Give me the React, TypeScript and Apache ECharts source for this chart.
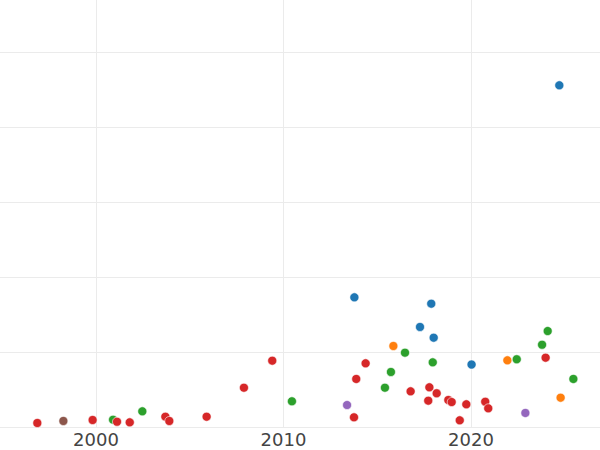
import React, { useEffect, useRef } from "react";
import * as echarts from "echarts";

// Year and value pairs (y in grid units)
const blueYears = [2013.78, 2017.88, 2017.28, 2018.01, 2020.03, 2024.71];
const blueValues = [1.734, 1.649, 1.338, 1.195, 0.837, 4.565];

const orangeYears = [2015.86, 2021.94, 2024.78];
const orangeValues = [1.084, 0.893, 0.394];

const greenYears = [2000.91, 2002.47, 2010.45, 2015.41, 2015.73, 2016.48, 2017.96, 2022.44, 2023.79, 2024.09, 2025.46];
const greenValues = [0.1, 0.212, 0.346, 0.527, 0.737, 0.995, 0.866, 0.907, 1.101, 1.284, 0.644];

const redYears = [1996.87, 1999.82, 2001.12, 2001.8, 2003.7, 2003.91, 2005.9, 2007.89, 2009.4, 2013.76, 2013.88, 2014.38, 2016.78, 2017.78, 2018.17, 2017.72, 2018.79, 2018.97, 2019.75, 2019.4, 2020.76, 2020.92, 2023.98];
const redValues = [0.056, 0.096, 0.073, 0.065, 0.14, 0.083, 0.14, 0.527, 0.888, 0.132, 0.644, 0.853, 0.479, 0.533, 0.453, 0.354, 0.363, 0.336, 0.306, 0.092, 0.34, 0.252, 0.928];

const purpleYears = [2013.39, 2022.9];
const purpleValues = [0.296, 0.19];

const brownYears = [1998.26];
const brownValues = [0.083];

const xTicks = [1990, 2000, 2010, 2020, 2030];

const seriesDefs = [
  { name: "blue", color: "#1f77b4", xs: blueYears, ys: blueValues },
  { name: "orange", color: "#ff7f0e", xs: orangeYears, ys: orangeValues },
  { name: "green", color: "#2ca02c", xs: greenYears, ys: greenValues },
  { name: "red", color: "#d62728", xs: redYears, ys: redValues },
  { name: "purple", color: "#9467bd", xs: purpleYears, ys: purpleValues },
  { name: "brown", color: "#8c564b", xs: brownYears, ys: brownValues },
];

export default function App() {
  const ref = useRef<HTMLDivElement>(null);
  useEffect(() => {
    if (!ref.current) return;
    const chart = echarts.init(ref.current, undefined, { renderer: "svg" });
    chart.setOption({
      animation: false,
      backgroundColor: "#ffffff",
      grid: {
        left: 8.5,
        right: 11.5,
        top: 7.8,
        bottom: 22.8,
        containLabel: false,
        outerBoundsMode: "none",
      },
      xAxis: {
        type: "value",
        min: xTicks[0],
        max: xTicks[xTicks.length - 1],
        interval: 10,
        axisLine: { show: false },
        axisTick: { show: false },
        axisLabel: {
          color: "#444444",
          fontSize: 18,
          lineHeight: 16,
          fontFamily: "DejaVu Sans",
          margin: 4,
          showMinLabel: false,
          showMaxLabel: false,
          formatter: (v: number) => String(v),
        },
        splitLine: { show: true, lineStyle: { color: "#ebebeb", width: 1 } },
      },
      yAxis: {
        type: "value",
        min: 0,
        max: 6,
        interval: 1,
        axisLine: { show: false },
        axisTick: { show: false },
        axisLabel: { show: false },
        splitLine: { show: true, lineStyle: { color: "#ebebeb", width: 1 } },
      },
      series: seriesDefs.map((s) => ({
        name: s.name,
        type: "scatter",
        symbol: "circle",
        symbolSize: 9,
        itemStyle: { color: s.color, borderColor: "#ffffff", borderWidth: 0.6, opacity: 1 },
        data: s.xs.map((x, i) => [x, s.ys[i]]),
      })),
    });
    return () => chart.dispose();
  }, []);
  return (
    <div
      style={{
        position: "fixed",
        left: 0,
        top: 0,
        width: 600,
        height: 450,
        overflow: "hidden",
        background: "#fff",
      }}
    >
      <div
        ref={ref}
        style={{ position: "absolute", left: -100, top: -30, width: 770, height: 480 }}
      />
    </div>
  );
}
